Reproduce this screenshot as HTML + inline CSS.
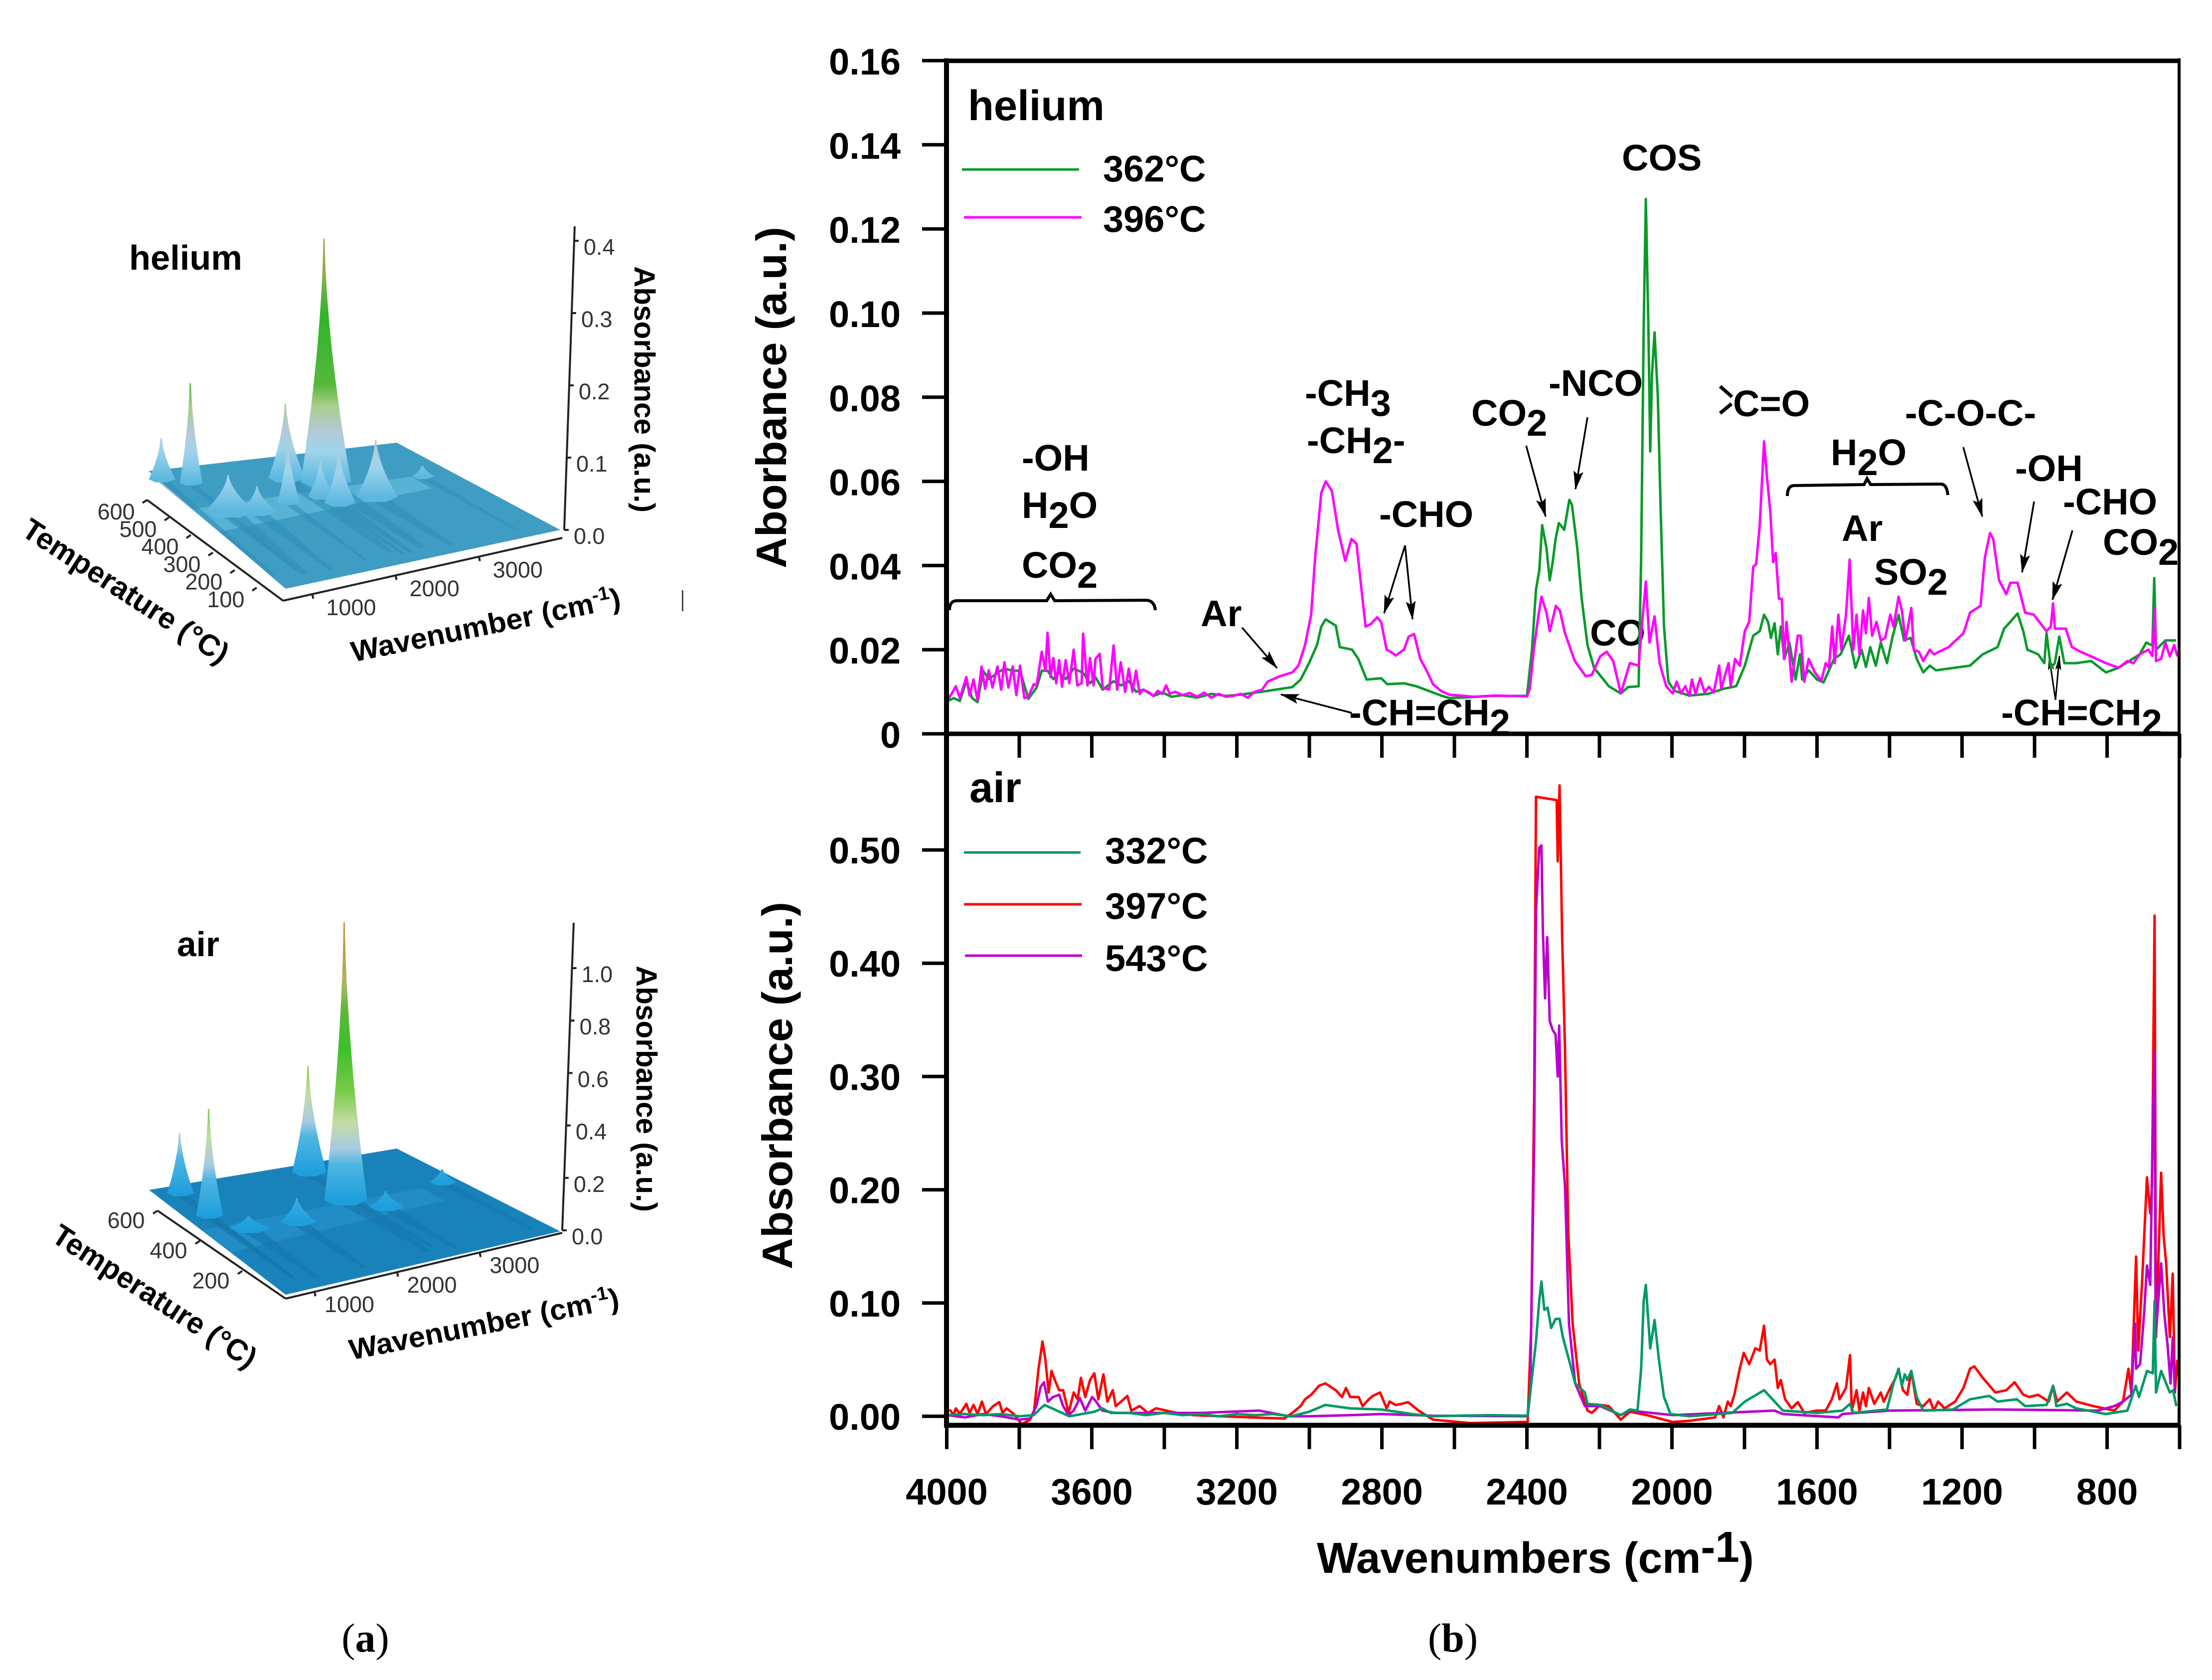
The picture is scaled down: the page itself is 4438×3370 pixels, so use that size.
<!DOCTYPE html>
<html lang="en">
<head>
<meta charset="utf-8">
<title>FTIR absorbance spectra</title>
<style>
html,body{margin:0;padding:0;background:#fff;}
svg{display:block;}
text{font-family:"Liberation Sans",sans-serif;fill:#000;}
.b{font-weight:bold;font-size:74px;}
.t3{font-size:45px;fill:#333;}
.c3{font-weight:bold;}
.arrow{stroke:#000;stroke-width:3.5;fill:none;marker-end:url(#ah);}
.arrow-small{stroke:#000;stroke-width:3;fill:none;marker-end:url(#ah2);}
</style>
</head>
<body>
<svg id="fig" xmlns="http://www.w3.org/2000/svg" width="4438" height="3370" viewBox="0 0 4438 3370">
<defs>
<marker id="ah" markerUnits="userSpaceOnUse" markerWidth="38" markerHeight="22" refX="36" refY="11" orient="auto"><path d="M0 1L38 11L0 21L7 11Z" fill="#000"/></marker>
<marker id="ah2" markerUnits="userSpaceOnUse" markerWidth="30" markerHeight="14" refX="28" refY="7" orient="auto"><path d="M0 1L30 7L0 13L5 7Z" fill="#000"/></marker>
</defs>
<rect width="4438" height="3370" fill="#fff"/>

<g id="surface-helium"></g>
<g id="surface-air"></g>

<text class="c3" x="259" y="541" font-size="70" textLength="227" lengthAdjust="spacingAndGlyphs">helium</text>
<text class="c3" x="355" y="1918" font-size="70" textLength="85" lengthAdjust="spacingAndGlyphs">air</text>
<text class="c3" font-size="58" transform="translate(1273,534) rotate(90)" textLength="494" lengthAdjust="spacingAndGlyphs">Absorbance (a.u.)</text>
<text class="c3" font-size="58" transform="translate(1277,1937) rotate(90)" textLength="494" lengthAdjust="spacingAndGlyphs">Absorbance (a.u.)</text>
<text class="c3" font-size="60" transform="translate(40,1072) rotate(33)" textLength="480" lengthAdjust="spacingAndGlyphs">Temperature (°C)</text>
<text class="c3" font-size="60" transform="translate(100,2488) rotate(33)" textLength="475" lengthAdjust="spacingAndGlyphs">Temperature (°C)</text>
<text class="c3" font-size="58" transform="translate(709,1328) rotate(-11.5)" textLength="550" lengthAdjust="spacingAndGlyphs">Wavenumber (cm<tspan font-size="38" dy="-22">-1</tspan><tspan dy="22">)</tspan></text>
<text class="c3" font-size="58" transform="translate(705,2728) rotate(-11)" textLength="550" lengthAdjust="spacingAndGlyphs">Wavenumber (cm<tspan font-size="38" dy="-22">-1</tspan><tspan dy="22">)</tspan></text>
<rect x="1368" y="1184" width="3" height="42" fill="#444"/>
<text x="733" y="3313" text-anchor="middle" font-size="82" style="font-family:'Liberation Serif',serif">(<tspan font-weight="bold">a</tspan>)</text>
<text x="2915" y="3313" text-anchor="middle" font-size="82" style="font-family:'Liberation Serif',serif">(<tspan font-weight="bold">b</tspan>)</text>

<g id="annotations-top">
<text class="b" font-size="85" style="font-size:85px" x="1942" y="241">helium</text>
<text class="b" x="2050" y="944">-OH</text>
<text class="b" x="2050" y="1039">H<tspan dy="20">2</tspan><tspan dy="-20">O</tspan></text>
<text class="b" x="2050" y="1159">CO<tspan dy="20">2</tspan></text>
<path d="M1905 1224Q1905 1205 1920 1205L2100 1205L2108 1192L2116 1205L2300 1204Q2316 1205 2318 1224" fill="none" stroke="#000" stroke-width="6"/>
<text class="b" x="2409" y="1256">Ar</text>
<line class="arrow" x1="2492" y1="1259" x2="2562" y2="1340"/>
<text class="b" x="2618" y="814">-CH<tspan dy="20">3</tspan></text>
<text class="b" x="2622" y="909">-CH<tspan dy="20">2</tspan><tspan dy="-20">-</tspan></text>
<text class="b" x="2767" y="1057">-CHO</text>
<line class="arrow" x1="2819" y1="1094" x2="2777" y2="1230"/>
<line class="arrow" x1="2819" y1="1094" x2="2834" y2="1242"/>
<text class="b" x="2952" y="854">CO<tspan dy="20">2</tspan></text>
<line class="arrow" x1="3062" y1="894" x2="3101" y2="1036"/>
<text class="b" x="3107" y="794">-NCO</text>
<line class="arrow" x1="3185" y1="837" x2="3161" y2="981"/>
<text class="b" x="2707" y="1455">-CH=CH<tspan dy="20">2</tspan></text>
<line class="arrow" x1="2712" y1="1430" x2="2570" y2="1393"/>
<text class="b" x="3190" y="1295">CO</text>
<text class="b" x="3254" y="342">COS</text>
<text class="b" x="3477" y="835">C=O</text>
<path d="M3451 775L3475 796M3451 829L3474 810" stroke="#000" stroke-width="7" fill="none"/>
<text class="b" x="3673" y="933">H<tspan dy="20">2</tspan><tspan dy="-20">O</tspan></text>
<path d="M3586 995Q3586 974 3600 974L3740 972L3746 960L3753 972L3895 971Q3906 972 3908 993" fill="none" stroke="#000" stroke-width="6"/>
<text class="b" x="3695" y="1085">Ar</text>
<text class="b" x="3760" y="1173">SO<tspan dy="20">2</tspan></text>
<text class="b" x="3822" y="854">-C-O-C-</text>
<line class="arrow" x1="3939" y1="897" x2="3977" y2="1036"/>
<text class="b" x="4043" y="965">-OH</text>
<line class="arrow" x1="4081" y1="1006" x2="4057" y2="1148"/>
<text class="b" x="4139" y="1032">-CHO</text>
<line class="arrow" x1="4158" y1="1064" x2="4118" y2="1203"/>
<text class="b" x="4219" y="1113">CO<tspan dy="20">2</tspan></text>
<text class="b" x="4015" y="1455">-CH=CH<tspan dy="20">2</tspan></text>
<line class="arrow-small" x1="4124" y1="1404" x2="4111" y2="1316"/>
<line class="arrow-small" x1="4124" y1="1404" x2="4132" y2="1316"/>
</g>

<g id="plot-top"></g>
<g id="plot-bottom"></g>
<g id="axes"></g>

<g>
<line x1="1930" y1="340" x2="2165" y2="340" stroke="#0a9a2a" stroke-width="5"/>
<text class="b" x="2213" y="364">362°C</text>
<line x1="1934" y1="436" x2="2170" y2="436" stroke="#ff00ff" stroke-width="5"/>
<text class="b" x="2213" y="465">396°C</text>
</g>
<g>
<text class="b" style="font-size:85px" x="1945" y="1609">air</text>
<line x1="1934" y1="1710" x2="2168" y2="1710" stroke="#009966" stroke-width="5"/>
<text class="b" x="2217" y="1732">332°C</text>
<line x1="1934" y1="1814" x2="2170" y2="1814" stroke="#ff0000" stroke-width="5"/>
<text class="b" x="2217" y="1843">397°C</text>
<line x1="1936" y1="1917" x2="2171" y2="1917" stroke="#bb00cc" stroke-width="5"/>
<text class="b" x="2217" y="1948">543°C</text>
</g>
<text class="b" style="font-size:85px" transform="translate(1577,1140) rotate(-90)" textLength="685" lengthAdjust="spacingAndGlyphs">Aborbance (a.u.)</text>
<text class="b" style="font-size:85px" transform="translate(1589,2546) rotate(-90)" textLength="737" lengthAdjust="spacingAndGlyphs">Absorbance (a.u.)</text>
<text class="b" style="font-size:87px" x="2642" y="3155">Wavenumbers (cm<tspan dy="-22">-1</tspan><tspan dy="22">)</tspan></text>
</svg>

<script>
// ---------- tick data ----------
const xTickValues=[4000,3800,3600,3400,3200,3000,2800,2600,2400,2200,2000,1800,1600,1400,1200,1000,800,600];
const xTickLabels=[4000,3600,3200,2800,2400,2000,1600,1200,800];
const topYTicks=[0,0.02,0.04,0.06,0.08,0.10,0.12,0.14,0.16];
const topYLabels=["0","0.02","0.04","0.06","0.08","0.10","0.12","0.14","0.16"];
const bottomYTicks=[0,0.1,0.2,0.3,0.4,0.5];
const bottomYLabels=["0.00","0.10","0.20","0.30","0.40","0.50"];

// ---------- helium 396 C ----------
const he396Wn=[3998,3986,3975,3964,3946,3937,3926,3915,3904,3894,3884,3874,3860,3850,3841,3830,3818,3808,3798,3786,3775,3760,3752,3738,3728,3722,3714,3706,3698,3690,3682,3672,3662,3650,3640,3628,3624,3612,3605,3595,3590,3578,3570,3552,3540,3530,3520,3508,3498,3488,3478,3468,3458,3445,3430,3418,3405,3395,3385,3370,3350,3330,3310,3290,3270,3250,3230,3210,3190,3170,3150,3130,3115,3081,3047,3030,3012,2995,2984,2967,2955,2938,2921,2901,2884,2870,2859,2845,2830,2813,2802,2787,2776,2762,2739,2726,2711,2694,2677,2659,2637,2614,2546,2489,2400,2392,2381,2369,2360,2346,2337,2329,2320,2309,2295,2268,2238,2221,2198,2180,2162,2141,2116,2092,2083,2072,2062,2048,2034,2016,1998,1987,1975,1963,1952,1945,1935,1922,1910,1898,1885,1870,1864,1844,1838,1826,1813,1799,1787,1776,1768,1758,1746,1738,1729,1721,1714,1705,1697,1691,1684,1670,1653,1645,1635,1623,1606,1588,1576,1567,1558,1551,1541,1533,1520,1510,1500,1491,1483,1473,1465,1457,1448,1436,1424,1412,1398,1389,1375,1366,1356,1340,1333,1319,1307,1289,1278,1237,1196,1178,1149,1137,1123,1114,1098,1078,1067,1047,1026,1002,967,955,949,944,914,897,873,844,803,768,744,727,710,686,675,668,665,651,639,627,615,606];
const he396Abs=[.0080,.0096,.0113,.0085,.0135,.0091,.0129,.0080,.0160,.0107,.0151,.0110,.0160,.0105,.0170,.0110,.0160,.0092,.0162,.0085,.0088,.0118,.0115,.0195,.0150,.0240,.0135,.0180,.0120,.0175,.0112,.0175,.0120,.0200,.0115,.0120,.0238,.0115,.0180,.0115,.0178,.0190,.0110,.0105,.0210,.0105,.0170,.0100,.0155,.0100,.0150,.0095,.0105,.0100,.0090,.0102,.0095,.0115,.0095,.0100,.0092,.0097,.0088,.0098,.0086,.0095,.0088,.0090,.0095,.0086,.0100,.0105,.0124,.0137,.0146,.0162,.0211,.0283,.0419,.0573,.0600,.0578,.0485,.0411,.0463,.0452,.0365,.0255,.0261,.0277,.0266,.0200,.0195,.0186,.0200,.0231,.0237,.0178,.0151,.0118,.0102,.0093,.0088,.0091,.0089,.0107,.0200,.0277,.0326,.0288,.0244,.0272,.0304,.0293,.0239,.0173,.0137,.0140,.0184,.0195,.0173,.0096,.0168,.0162,.0255,.0362,.0217,.0279,.0168,.0113,.0096,.0124,.0096,.0113,.0090,.0129,.0095,.0132,.0098,.0112,.0098,.0162,.0108,.0168,.0113,.0178,.0162,.0244,.0266,.0397,.0403,.0496,.0695,.0611,.0529,.0408,.0430,.0321,.0321,.0178,.0266,.0124,.0233,.0233,.0124,.0178,.0146,.0126,.0168,.0157,.0255,.0168,.0283,.0200,.0283,.0414,.0200,.0283,.0189,.0293,.0239,.0323,.0233,.0266,.0222,.0228,.0283,.0255,.0326,.0293,.0222,.0299,.0200,.0195,.0173,.0200,.0189,.0206,.0239,.0288,.0304,.0419,.0477,.0463,.0365,.0332,.0359,.0359,.0288,.0283,.0244,.0255,.0310,.0250,.0250,.0206,.0195,.0184,.0168,.0157,.0173,.0168,.0189,.0200,.0185,.0299,.0173,.0178,.0217,.0184,.0211,.0184];

// ---------- helium 362 C ----------
const he362Wn=[3998,3980,3964,3946,3930,3915,3900,3884,3860,3841,3818,3798,3775,3752,3738,3722,3706,3690,3672,3650,3624,3605,3590,3570,3540,3520,3498,3478,3458,3430,3405,3380,3350,3310,3270,3230,3190,3150,3115,3047,3024,3001,2979,2967,2955,2927,2916,2882,2865,2842,2802,2785,2739,2705,2671,2637,2614,2560,2500,2400,2386,2375,2366,2358,2346,2337,2329,2321,2312,2297,2283,2276,2261,2249,2233,2215,2174,2141,2121,2092,2085,2078,2072,2065,2060,2055,2048,2039,2031,2022,2010,1993,1952,1900,1858,1823,1799,1776,1758,1746,1735,1727,1717,1708,1700,1690,1676,1659,1647,1641,1623,1600,1582,1553,1535,1512,1494,1477,1465,1453,1438,1424,1407,1391,1375,1360,1342,1325,1307,1289,1272,1178,1143,1102,1084,1067,1047,1031,1020,990,973,967,955,944,932,918,885,844,803,768,710,692,675,670,665,639,610];
const he362Abs=[.0078,.0085,.0078,.0125,.0085,.0075,.0150,.0130,.0145,.0155,.0150,.0150,.0083,.0110,.0150,.0150,.0130,.0145,.0130,.0155,.0145,.0120,.0135,.0105,.0125,.0115,.0125,.0100,.0105,.0090,.0098,.0088,.0092,.0086,.0095,.0090,.0093,.0098,.0102,.0111,.0129,.0168,.0211,.0255,.0272,.0257,.0206,.0200,.0178,.0129,.0132,.0118,.0120,.0113,.0102,.0091,.0085,.0087,.0090,.0090,.0200,.0343,.0387,.0496,.0441,.0365,.0408,.0463,.0501,.0485,.0556,.0545,.0441,.0321,.0211,.0157,.0113,.0096,.0111,.0113,.0419,.0967,.1271,.0967,.0671,.0857,.0954,.0803,.0529,.0255,.0124,.0102,.0091,.0095,.0107,.0113,.0162,.0233,.0244,.0283,.0266,.0228,.0263,.0189,.0255,.0178,.0217,.0129,.0189,.0129,.0151,.0129,.0122,.0178,.0189,.0233,.0157,.0200,.0159,.0206,.0162,.0217,.0168,.0233,.0283,.0222,.0228,.0178,.0146,.0162,.0151,.0162,.0189,.0206,.0250,.0266,.0286,.0244,.0200,.0189,.0168,.0239,.0157,.0168,.0231,.0168,.0168,.0173,.0146,.0157,.0189,.0217,.0210,.0370,.0200,.0222,.0222];

// ---------- air 397 C ----------
const air397Wn=[3992,3981,3975,3964,3946,3937,3926,3915,3903,3892,3872,3855,3846,3835,3815,3793,3770,3759,3747,3736,3728,3719,3711,3702,3690,3679,3664,3650,3639,3630,3618,3605,3593,3582,3568,3557,3542,3534,3519,3502,3491,3468,3445,3423,3366,3320,3161,3069,3047,3024,3012,2995,2973,2956,2927,2910,2899,2887,2864,2853,2836,2825,2805,2787,2779,2762,2745,2728,2699,2659,2557,2409,2398,2388,2380,2375,2318,2315,2310,2303,2295,2286,2274,2256,2233,2221,2198,2174,2141,2116,2069,1998,1952,1881,1870,1858,1846,1838,1828,1813,1802,1787,1770,1758,1746,1738,1729,1717,1708,1700,1688,1670,1653,1635,1600,1576,1559,1545,1538,1520,1509,1504,1491,1483,1473,1465,1457,1442,1424,1416,1398,1383,1375,1363,1351,1340,1325,1307,1289,1278,1266,1248,1219,1196,1178,1166,1143,1108,1078,1055,1031,1014,990,961,949,938,911,885,838,780,756,741,733,720,714,703,690,681,676,669,665,651,644,637,627,619,613,606];
const air397Abs=[.006,.001,.007,.002,.011,.003,.010,.002,.013,.002,.009,.0125,.003,.007,.002,-.007,-.003,.005,.042,.066,.050,.021,.040,.032,.023,.023,.003,.021,.015,.034,.017,.032,.038,.015,.037,.013,.023,.009,.013,.018,.005,.009,.003,.007,.003,.001,-.001,-.002,.003,.009,.015,.019,.027,.029,.023,.017,.025,.017,.017,.009,.015,.018,.021,.007,.013,.010,.011,.0125,.005,-.003,-.006,-.005,-.005,.08,.285,.547,.544,.490,.557,.425,.324,.163,.082,.029,.005,.003,.010,.009,-.003,.004,.001,-.005,-.004,-.001,.009,-.001,.013,.009,.019,.042,.056,.046,.060,.058,.080,.050,.046,.050,.025,.032,.015,.007,.0125,.003,.005,.005,.015,.029,.015,.025,.054,.005,.023,.005,.021,.009,.025,.011,.021,.013,.025,.034,.042,.023,.019,.040,.011,.009,.015,.005,.013,.007,.013,.025,.042,.044,.034,.021,.023,.030,.019,.017,.019,.013,.027,.013,.021,.013,.009,.005,.013,.042,.021,.141,.058,.122,.211,.179,.203,.442,.070,.215,.159,.135,.070,.126,.021,.050];

// ---------- air 543 C ----------
const air543Wn=[3998,3950,3900,3850,3800,3770,3753,3741,3732,3721,3707,3690,3679,3664,3650,3633,3618,3599,3588,3571,3536,3297,3138,3058,3001,2887,2802,2659,2398,2391,2380,2375,2366,2360,2356,2350,2344,2337,2329,2321,2315,2311,2304,2295,2284,2267,2240,2198,2141,2116,1998,1717,1694,1541,1530,1401,1108,826,780,756,733,723,720,709,698,690,681,674,669,666,651,642,633,625,619,613];
const air543Abs=[.001,-.001,.002,.000,-.003,-.002,.009,.026,.030,.013,.017,.019,.009,.001,.005,.016,.005,.017,.013,.005,.003,.003,.005,.000,.000,.001,.002,.0005,.000,.021,.244,.446,.502,.504,.429,.369,.423,.349,.341,.337,.300,.345,.244,.203,.082,.029,.009,.009,.001,.005,.001,.005,.002,-.001,.002,.005,.006,.005,.009,.013,.019,.082,.042,.046,.090,.133,.116,.256,.322,.070,.135,.090,.062,.029,.070,.021];

// ---------- air 332 C ----------
const air332Wn=[3998,3950,3900,3850,3800,3760,3741,3730,3696,3662,3593,3571,3548,3500,3450,3400,3350,3300,3250,3200,3150,3100,3050,3001,2956,2887,2802,2717,2659,2600,2500,2398,2388,2375,2366,2360,2352,2343,2333,2321,2310,2301,2284,2267,2240,2233,2198,2141,2116,2095,2085,2078,2072,2060,2048,2036,2022,2004,1952,1834,1799,1746,1717,1694,1600,1530,1509,1500,1407,1389,1375,1366,1358,1351,1340,1325,1307,1225,1178,1125,1102,1049,1026,967,949,940,911,885,803,744,721,712,690,674,669,665,651,627,618,609];
const air332Abs=[.001,.002,.001,.002,.000,.001,.007,.010,.005,.000,.004,.007,.003,.003,.001,.003,.001,.002,.000,.002,.001,.002,.000,.004,.010,.007,.006,.002,.000,.0005,.001,.0005,.029,.066,.102,.119,.094,.096,.078,.086,.086,.070,.050,.029,.021,.011,.010,.001,.006,.005,.042,.102,.116,.060,.085,.050,.017,.002,.000,.003,.013,.023,.013,.005,.003,.005,.011,.003,.006,.029,.042,.027,.037,.032,.040,.017,.005,.006,.015,.018,.013,.015,.009,.010,.027,.009,.011,.007,.002,.005,.027,.017,.040,.038,.102,.021,.040,.021,.023,.009];

// ---------- 3D waterfall peaks ----------
const heliumPeakWn=[2489,2120,973,685,1776,2214,2312,2787,1010,1319,3617];
const heliumPeakTemp=[460,504,541,575,383,388,343,343,386,364,411];
const heliumPeakAbs=[0.336,0.103,0.138,0.057,0.083,0.048,0.070,0.079,0.050,0.035,0.015];
const heliumPeakBase=[610,430,245,300,245,300,366,490,610,430,245];
const airPeakWn=[2540,2642,926,938,1738,2839,3800,1160];
const airPeakTemp=[394,573,445,579,333,320,390,349];
const airPeakAbs=[1.06,0.405,0.407,0.23,0.09,0.06,0.05,0.048];
const airPeakBase=[510,400,300,300,420,420,300,480];
const heliumZTicks=[0,0.1,0.2,0.3,0.4];
const airZTicks=[0,0.2,0.4,0.6,0.8,1.0];
const heliumTempTicks=[100,200,300,400,500,600];
const airTempTicks=[200,400,600];
const wnTicks3d=[1000,2000,3000];

// ---------- scales ----------
const NS="http://www.w3.org/2000/svg";
const xScale=wn=>1899.5+(4000-wn)*0.7275;
const yTop=a=>1472-a*8440;
const yBottom=a=>2841-a*2272;

function mk(tag,attrs,parent){
  const el=document.createElementNS(NS,tag);
  for(const k in attrs)el.setAttribute(k,attrs[k]);
  parent.appendChild(el);
  return el;
}
function drawSeries(parent,wns,vals,yFn,color,name){
  const n=Math.min(wns.length,vals.length);
  let pts=[];
  for(let i=0;i<n;i++)pts.push(xScale(wns[i]).toFixed(1)+","+yFn(vals[i]).toFixed(1));
  const el=mk("polyline",{points:pts.join(" "),fill:"none",stroke:color,"stroke-width":"5","stroke-linejoin":"round"},parent);
  
  
}
const plotTop=document.getElementById("plot-top");
const plotBottom=document.getElementById("plot-bottom");
drawSeries(plotTop,he362Wn,he362Abs,yTop,"#0a9a2a","series-helium-362c");
drawSeries(plotTop,he396Wn,he396Abs,yTop,"#ff00ff","series-helium-396c");
drawSeries(plotBottom,air397Wn,air397Abs,yBottom,"#ff0000","series-air-397c");
drawSeries(plotBottom,air543Wn,air543Abs,yBottom,"#bb00cc","series-air-543c");
drawSeries(plotBottom,air332Wn,air332Abs,yBottom,"#009966","series-air-332c");

// ---------- axes ----------
const axes=document.getElementById("axes");
function axisLine(x1,y1,x2,y2,w,name){
  const el=mk("line",{x1:x1,y1:y1,x2:x2,y2:y2,stroke:"#000","stroke-width":w},axes);
  
  
}
axisLine(1899,117,1899,2864,10,"left-axis-line");
axisLine(1894,122,4375,122,9,"top-frame-line");
axisLine(1894,1472,4375,1472,9,"middle-frame-line");
axisLine(1894,2859,4375,2859,10,"bottom-axis-line");
axisLine(4372,117,4372,2864,6,"right-frame-line");
xTickValues.forEach(v=>{
  axisLine(xScale(v),1472,xScale(v),1520,7,"top-panel-x-tick");
  axisLine(xScale(v),2859,xScale(v),2907,7,"bottom-panel-x-tick");
});
function tickText(txt,x,y,anchor,name){
  const el=mk("text",{x:x,y:y,"text-anchor":anchor,"class":"b"},axes);
  el.textContent=txt;
  
  
}
xTickLabels.forEach(v=>tickText(String(v),xScale(v),3018,"middle","x-tick-label"));
topYTicks.forEach((v,i)=>{
  axisLine(1850,yTop(v),1899,yTop(v),7,"top-y-tick");
  tickText(topYLabels[i],1807,yTop(v)+28,"end","top-y-tick-label");
});
bottomYTicks.forEach((v,i)=>{
  axisLine(1850,yBottom(v),1899,yBottom(v),7,"bottom-y-tick");
  tickText(bottomYLabels[i],1807,yBottom(v)+27,"end","bottom-y-tick-label");
});

// ---------- 3D surfaces ----------
function surface(cfg){
  const g=document.getElementById(cfg.id);
  const P=(wn,T,a)=>{
    const u=(wn-650)/3350, v=T/620;
    const x=cfg.F[0]+u*(cfg.R[0]-cfg.F[0])+v*(cfg.L[0]-cfg.F[0])+u*v*(cfg.F[0]+cfg.B[0]-cfg.R[0]-cfg.L[0]);
    const y=cfg.F[1]+u*(cfg.R[1]-cfg.F[1])+v*(cfg.L[1]-cfg.F[1])+u*v*(cfg.F[1]+cfg.B[1]-cfg.R[1]-cfg.L[1]);
    return [x,y-(a||0)*cfg.K];
  };
  const poly=(pts,fill,op,name)=>{
    const el=mk("polygon",{points:pts.map(p=>p[0].toFixed(1)+","+p[1].toFixed(1)).join(" "),fill:fill,opacity:op},g);
    
    
  };
  poly([P(650,0),P(4000,0),P(4000,620),P(650,620)],cfg.base,1,"surface-floor");
  poly([P(650,cfg.bandLo),P(3500,cfg.bandLo+40),P(3500,cfg.bandHi),P(650,cfg.bandHi)],cfg.band,0.55,"surface-light-band");
  const order=cfg.wn.map((_,i)=>i).sort((a,b)=>cfg.T[b]-cfg.T[a]);
  order.forEach(i=>{
    const hw=cfg.w[i]*0.22;
    poly([P(cfg.wn[i]-hw,cfg.T[i]),P(cfg.wn[i]+hw,cfg.T[i]),P(cfg.wn[i]+hw*0.3,cfg.T[i]*0.12),P(cfg.wn[i]-hw*0.3,cfg.T[i]*0.12)],cfg.tail,0.6,"peak-tail");
  });
  const defs=document.querySelector("#fig defs");
  order.forEach(i=>{
    const b=P(cfg.wn[i],cfg.T[i],0);
    const H=cfg.a[i]*cfg.K;
    const W=cfg.w[i]*0.164/2;
    const gid=cfg.id+"-g"+i;
    const gr=mk("linearGradient",{id:gid,gradientUnits:"userSpaceOnUse",x1:0,x2:0,y1:b[1],y2:b[1]-cfg.amax*cfg.K},defs);
    cfg.stops.forEach(s=>mk("stop",{offset:s[0],"stop-color":s[1]},gr));
    let L=[],R=[];
    const N=22;
    for(let k=0;k<=N;k++){
      const t=k/N;
      const hw=W*Math.pow(1-t,1.7)+3*(1-t)+1.5;
      const y=b[1]-H*t;
      L.push([b[0]-hw*0.85,y]);
      R.unshift([b[0]+hw,y]);
    }
    const under=[[b[0]+W*0.5,b[1]+W*0.25],[b[0]-W*0.45,b[1]+W*0.25]];
    const d=L.concat(R).concat(under);
    const el=mk("polygon",{points:d.map(p=>p[0].toFixed(1)+","+p[1].toFixed(1)).join(" "),fill:"url(#"+gid+")"},g);
    
    
  });
  const ln=(x1,y1,x2,y2,name,w)=>{
    const el=mk("line",{x1:x1,y1:y1,x2:x2,y2:y2,stroke:"#222","stroke-width":w||4},g);
    
    
  };
  const label=(txt,x,y,name,anchor)=>{
    const el=mk("text",{x:x,y:y,"class":"t3","text-anchor":anchor||"start"},g);
    el.textContent=txt;
    
    
  };
  ln(cfg.z0[0],cfg.z0[1],cfg.zTop[0],cfg.zTop[1],"z-axis-line");
  const zx=y=>cfg.z0[0]+(cfg.z0[1]-y)*(cfg.zTop[0]-cfg.z0[0])/(cfg.z0[1]-cfg.zTop[1]);
  cfg.zTicks.forEach(v=>{
    const y=cfg.z0[1]-v*cfg.K;
    ln(zx(y),y,zx(y)+9,y,"z-axis-tick");
    label(v.toFixed(1),zx(y)+19,y+28,"z-axis-tick-label");
  });
  const Tp=T=>[cfg.T0[0]+T*cfg.Tv[0],cfg.T0[1]+T*cfg.Tv[1]];
  ln(cfg.corner[0],cfg.corner[1],Tp(600)[0],Tp(600)[1],"temperature-axis-line");
  cfg.tTicks.forEach(T=>{
    const p=Tp(T);
    ln(p[0],p[1],p[0]-9,p[1]+6,"temperature-axis-tick");
    label(String(T),p[0]+cfg.tOff[0],p[1]+cfg.tOff[1]+16,"temperature-tick-label","middle");
  });
  ln(cfg.corner[0],cfg.corner[1],cfg.end[0],cfg.end[1],"wavenumber-axis-line");
  const Wp=w=>{const u=(w-650)/3350;return [cfg.corner[0]+u*(cfg.end[0]-cfg.corner[0]),cfg.corner[1]+u*(cfg.end[1]-cfg.corner[1])];};
  wnTicks3d.forEach(w=>{
    const p=Wp(w);
    ln(p[0],p[1],p[0]+2,p[1]+9,"wavenumber-axis-tick");
    label(String(w),p[0]+cfg.wOff[0],p[1]+cfg.wOff[1]+16,"wavenumber-tick-label","middle");
  });
}
surface({id:"surface-helium",F:[573,1181],R:[1124,1063],B:[796,888],L:[298,945],K:1450,amax:.42,
  wn:heliumPeakWn,T:heliumPeakTemp,a:heliumPeakAbs,w:heliumPeakBase,
  base:"#3f9cc2",band:"#6cc4e6",tail:"#2f8fb8",bandLo:300,bandHi:420,
  stops:[[0,"#5cb8e0"],[.1,"#9fd4ec"],[.17,"#b5c9d6"],[.25,"#a8cf8a"],[.32,"#55b83c"],[.55,"#2fb52a"],[.68,"#8bb050"],[.8,"#b8a050"],[1,"#c88a2c"]],
  z0:[1132,1063],zTop:[1153,454],zTicks:heliumZTicks,tTicks:heliumTempTicks,
  T0:[559,1214],Tv:[-.44,-.352],tOff:[-62,23],corner:[568,1205],end:[1128,1079],wOff:[78,26]});
surface({id:"surface-air",F:[573,2597],R:[1124,2470],B:[796,2304],L:[299,2387],K:526,amax:1.15,
  wn:airPeakWn,T:airPeakTemp,a:airPeakAbs,w:airPeakBase,
  base:"#1a82bb",band:"#2a95cf",tail:"#1574ab",bandLo:250,bandHi:380,
  stops:[[0,"#1e9fdc"],[.12,"#4fb6e2"],[.17,"#a8cbe4"],[.26,"#c4dca4"],[.36,"#7acb4a"],[.5,"#3cc02a"],[.63,"#5cb838"],[.72,"#a8b860"],[.85,"#c09a40"],[1,"#c88a30"]],
  z0:[1128,2468],zTop:[1151,1851],zTicks:airZTicks,tTicks:airTempTicks,
  T0:[571,2610],Tv:[-.425,-.3025],tOff:[-63,19],corner:[573,2605],end:[1128,2473],wOff:[70,25]});
</script>
</body>
</html>
